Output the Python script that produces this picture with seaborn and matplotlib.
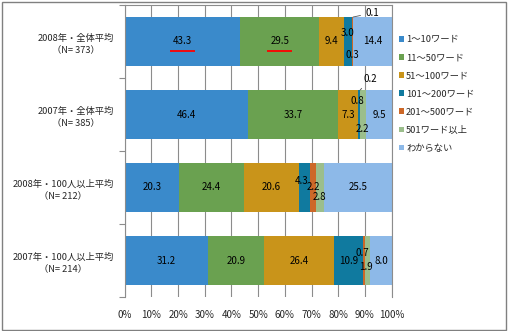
import numpy as np
import pandas as pd
import matplotlib
matplotlib.use("Agg")
import matplotlib.pyplot as plt
import matplotlib.transforms as mtransforms
from matplotlib.patches import Patch, Rectangle
import seaborn as sns

# ---- data -------------------------------------------------------------
categories = [
    "2008年・全体平均\n（N= 373）",
    "2007年・全体平均\n（N= 385）",
    "2008年・100人以上平均\n（N= 212）",
    "2007年・100人以上平均\n（N= 214）",
]
series_names = ["1～10ワード", "11～50ワード", "51～100ワード", "101～200ワード",
                "201～500ワード", "501ワード以上", "わからない"]
w1_10 = [43.3, 46.4, 20.3, 31.2]
w11_50 = [29.5, 33.7, 24.4, 20.9]
w51_100 = [9.4, 7.3, 20.6, 26.4]
w101_200 = [3.0, 0.8, 4.3, 10.9]
w201_500 = [0.3, 0.2, 2.2, 0.7]
w501_up = [0.1, 2.2, 2.8, 1.9]
unknown = [14.4, 9.5, 25.5, 8.0]
x_ticks = [0, 10, 20, 30, 40, 50, 60, 70, 80, 90, 100]

# ---- style ------------------------------------------------------------
colors = ["#3A8ACB", "#6AA150", "#C9941A", "#107A9F", "#CD6828", "#9BBE8C", "#8DB9E8"]
grid_col = "#8C8C8C"
FS = 7.0
FS_CAT = 6.7
FS_LEG = 6.7

sns.set_theme(style="white")
plt.rcParams["font.family"] = ["Noto Sans CJK JP", "DejaVu Sans"]

W, H = 508, 331
fig = plt.figure(figsize=(W / 100, H / 100), dpi=100)
ax = fig.add_axes([124.7 / W, 34 / H, 266.9 / W, 292 / H])

vals = np.array([w1_10, w11_50, w51_100, w101_200, w201_500, w501_up, unknown])
totals = vals.sum(axis=0)
cum = np.cumsum(vals, axis=0) / totals * 100
start = np.vstack([np.zeros(len(categories)), cum[:-1]])

# stacked bars: longest cumulative first, shorter ones on top
for k in reversed(range(len(series_names))):
    df = pd.DataFrame({"cat": categories, "cum": cum[k]})
    sns.barplot(data=df, x="cum", y="cat", orient="h", color=colors[k],
                saturation=1, width=0.67, errorbar=None, ax=ax,
                edgecolor="none", linewidth=0)

ax.set_xlim(0, 100)
ax.set_ylim(3.5, -0.5)
ax.set_xlabel("")
ax.set_ylabel("")

ax.set_xticks(x_ticks)
ax.set_xticklabels([f"{t}%" for t in x_ticks], fontsize=FS)
ax.xaxis.grid(True, color=grid_col, lw=0.8)
ax.yaxis.grid(False)
ax.set_axisbelow(True)
ax.tick_params(axis="x", length=0, pad=9)

ax.set_yticks(np.arange(-0.5, 4.0, 1.0), minor=True)
ax.tick_params(axis="y", which="minor", length=4, width=0.8, color=grid_col,
               direction="out", left=True)
ax.tick_params(axis="y", which="major", length=0, pad=8, labelsize=FS_CAT)
for lbl in ax.get_yticklabels():
    lbl.set_multialignment("center")
    lbl.set_linespacing(1.5)

for side in ["left", "top", "right"]:
    ax.spines[side].set_visible(True)
    ax.spines[side].set_color(grid_col)
    ax.spines[side].set_linewidth(0.8)
ax.spines["bottom"].set_visible(False)

# ---- value labels -----------------------------------------------------
# pixel nudges for crowded narrow segments: (bar, series) -> (dx, dy)
nudges = {
    (0, 3): (-1, -8), (0, 4): (0, 13),
    (1, 3): (-1, -13), (1, 5): (-1, 14),
    (2, 3): (-3, -7), (2, 4): (0, 0), (2, 5): (0, 9),
    (3, 4): (-1.5, -7.5), (3, 5): (-1.5, 6),
}
# labels set above the bar with a leader line: (bar, series) -> (dx, dy)
leaders = {(0, 5): (19, -4), (1, 4): (10, -11)}
px = 0.72  # points per pixel

for i in range(len(categories)):
    for k in range(len(series_names)):
        v = vals[k, i]
        xc = (start[k, i] + cum[k, i]) / 2
        txt = f"{v:.1f}"
        if (i, k) in leaders:
            dx, dy = leaders[(i, k)]
            ax.annotate(txt, xy=(xc, i - 0.335), xytext=(dx * px, -dy * px),
                        textcoords="offset points", ha="center", va="center",
                        fontsize=FS, color="black",
                        arrowprops=dict(arrowstyle="-", color="#555555", lw=0.6,
                                        shrinkA=1, shrinkB=0))
        else:
            dx, dy = nudges.get((i, k), (0, 0))
            ax.annotate(txt, xy=(xc, i), xytext=(dx * px, -dy * px),
                        textcoords="offset points", ha="center", va="center",
                        fontsize=FS, color="black")

# red underline emphasis under the two leading 2008 values
under = mtransforms.offset_copy(ax.transData, fig=fig, x=0, y=-9, units="dots")
for k in (0, 1):
    xc = (start[k, 0] + cum[k, 0]) / 2
    ax.plot([xc - 4.6, xc + 4.6], [0, 0], color="#FF0000", lw=1.3,
            transform=under, solid_capstyle="butt")

# ---- legend -----------------------------------------------------------
handles = [Patch(facecolor=c, edgecolor="none") for c in colors]
fig.legend(handles, series_names, loc="upper left",
           bbox_to_anchor=(399 / W, 1 - 35 / H), frameon=False,
           fontsize=FS_LEG, handlelength=0.55, handleheight=0.55,
           handletextpad=0.2, labelspacing=0.98, borderpad=0,
           borderaxespad=0)

# outer frame
fig.patches.append(Rectangle((1.5 / W, 1.5 / H), (W - 3.5) / W, (H - 3.5) / H,
                             transform=fig.transFigure, fill=False,
                             edgecolor="#808080", lw=1.0))

fig.savefig("out.png", dpi=100)
